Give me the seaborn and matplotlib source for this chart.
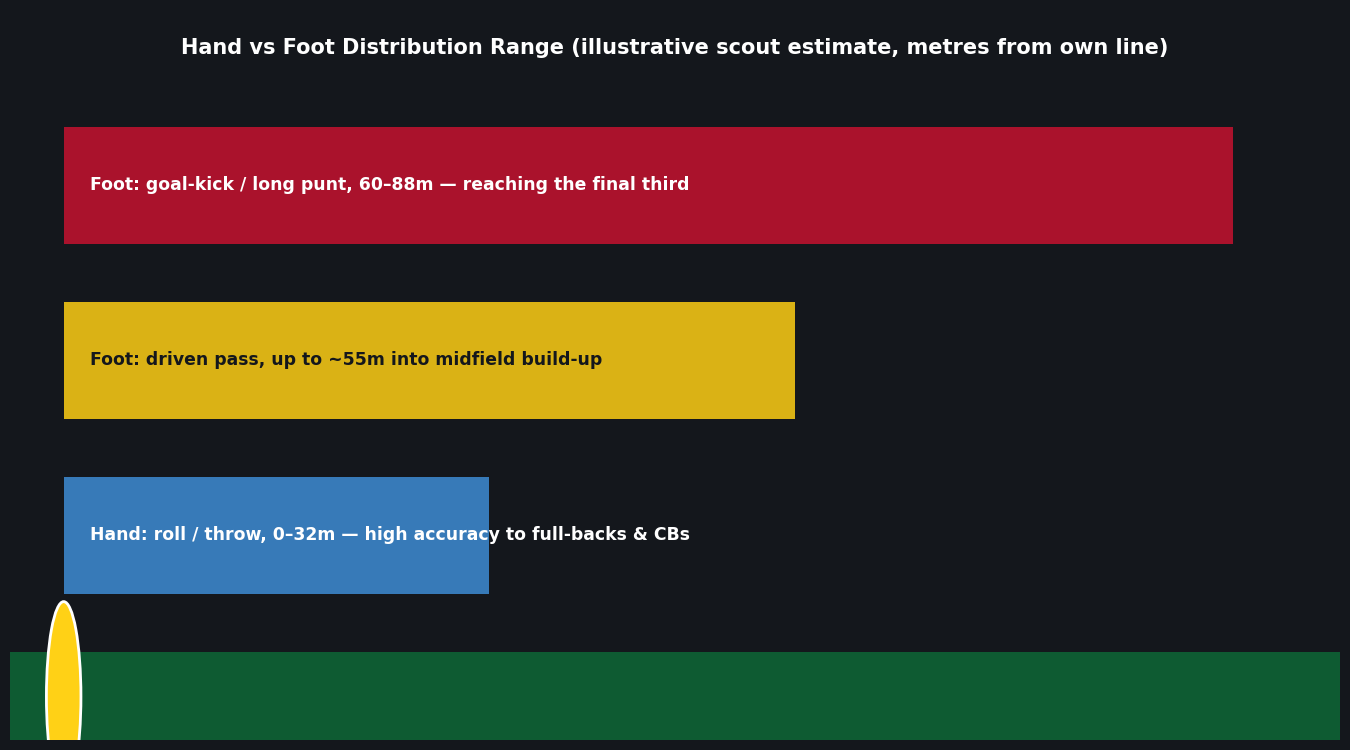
import matplotlib
matplotlib.use("Agg")
import matplotlib.pyplot as plt
from matplotlib.patches import Ellipse
import seaborn as sns

# bars, top to bottom
labels = [
    "Foot: goal-kick / long punt, 60–88m — reaching the final third",
    "Foot: driven pass, up to ~55m into midfield build-up",
    "Hand: roll / throw, 0–32m — high accuracy to full-backs & CBs",
]
ranges = [88, 55, 32]
rows = [3, 2, 1]
bar_colors = ["#AA122C", "#DAB215", "#377AB8"]
text_colors = ["white", "#14171C", "white"]

BG = "#14171C"

sns.set_theme(style="dark")
fig, ax = plt.subplots(figsize=(13.5, 7.5), dpi=100)
fig.patch.set_facecolor(BG)
ax.set_facecolor(BG)
ax.set_position([10 / 1350, 10 / 750, 1330 / 1350, 730 / 750])

sns.barplot(x=ranges, y=rows, hue=rows, palette=dict(zip(rows, bar_colors)),
            orient="h", native_scale=True, width=0.665, legend=False,
            saturation=1, linewidth=0, ax=ax)

# pitch strip and ball along the own line
ax.axhspan(-0.167, 0.336, color="#0E5B32", lw=0, zorder=1)
ax.add_patch(Ellipse((-0.03, 0.081), 2.6, 1.085, fc="#FFD116", ec="white", lw=2, zorder=4))

for y, lab, col in zip(rows, labels, text_colors):
    ax.text(1.96, y + 0.003, lab, color=col, fontsize=12.45, fontweight="bold", va="center", ha="left", zorder=5)

ax.set_xlim(-4.07, 96.04)
ax.set_ylim(-0.167, 4.003)
ax.set_xlabel("")
ax.set_ylabel("")
ax.set_xticks([])
ax.set_yticks([])
sns.despine(ax=ax, left=True, bottom=True)

fig.text(0.5, 1 - 47.5 / 750, "Hand vs Foot Distribution Range (illustrative scout estimate, metres from own line)",
         color="white", fontsize=15, fontweight="bold", ha="center", va="center")

fig.savefig("out.png", dpi=100, facecolor=BG)
